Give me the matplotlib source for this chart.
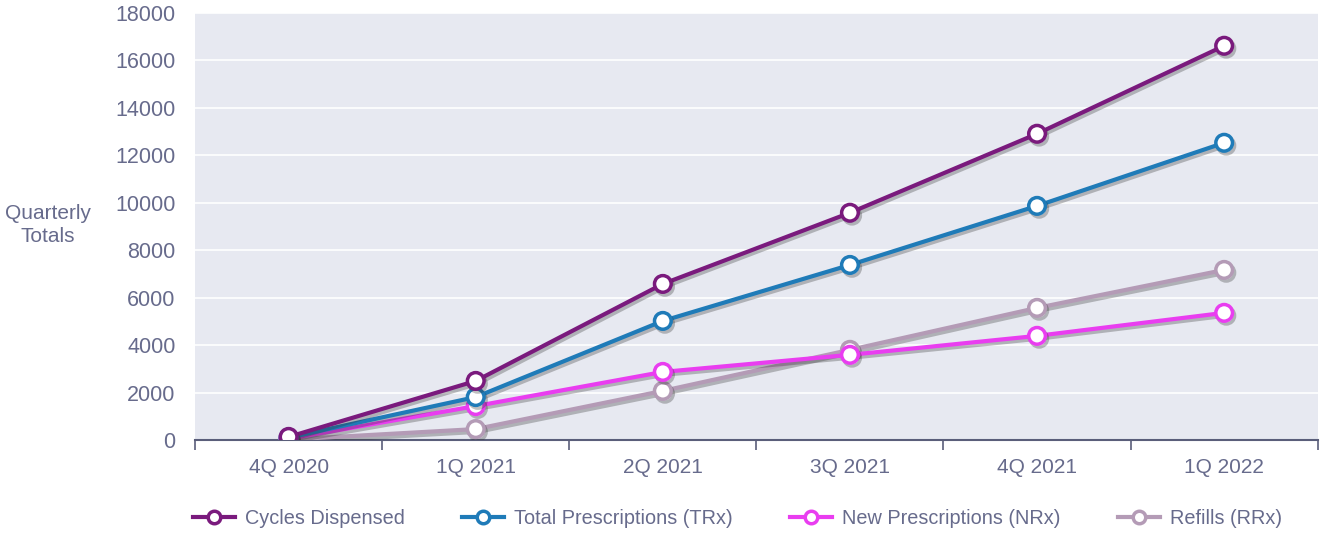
import matplotlib
matplotlib.use("Agg")
import matplotlib.pyplot as plt
import matplotlib.patheffects as pe
from matplotlib.lines import Line2D

plt.rcParams['font.family'] = ['Liberation Sans', 'DejaVu Sans']

quarters = ["4Q 2020", "1Q 2021", "2Q 2021", "3Q 2021", "4Q 2021", "1Q 2022"]
cycles_dispensed = [130, 2490, 6580, 9580, 12910, 16620]
total_rx = [100, 1810, 5020, 7380, 9870, 12530]
new_rx = [50, 1430, 2870, 3590, 4390, 5360]
refills_rx = [20, 460, 2070, 3800, 5570, 7170]

series = [
    ("Cycles Dispensed", cycles_dispensed, "#7a1a7d"),
    ("Total Prescriptions (TRx)", total_rx, "#1f7bb8"),
    ("New Prescriptions (NRx)", new_rx, "#e93df0"),
    ("Refills (RRx)", refills_rx, "#b49bb6"),
]

text_color = "#676b8c"

fig = plt.figure(figsize=(13.27, 5.33), dpi=100)
ax = fig.add_axes([0.147, 0.1745, 0.846, 0.801])
ax.set_facecolor("#e7e9f1")

x = list(range(len(quarters)))
shadow = [pe.SimpleLineShadow(offset=(1.5, -2), alpha=0.3, shadow_color="#303030"), pe.Normal()]

# draw back to front so the cycles line sits on top
for name, vals, color in reversed(series):
    ax.plot(x, vals, color=color, lw=3, marker="o", ms=12, mfc="white",
            mec=color, mew=2.5, path_effects=shadow, zorder=3)

ax.set_xlim(-0.5, len(quarters) - 0.5)
ax.set_ylim(0, 18000)
ax.set_yticks(range(0, 18001, 2000))
ax.yaxis.grid(True, color="white", lw=1.2)
ax.set_axisbelow(True)

ax.set_xticks(x)
ax.set_xticklabels(quarters)
ax.set_xticks([i - 0.5 for i in range(len(quarters) + 1)], minor=True)
ax.tick_params(axis="x", which="major", length=0, pad=13, labelsize=15, labelcolor=text_color)
ax.tick_params(axis="x", which="minor", length=7, width=1.2, color="#5a5e7a", direction="out")
ax.tick_params(axis="y", length=0, pad=14, labelsize=15.5, labelcolor=text_color)

for side in ["left", "right", "top"]:
    ax.spines[side].set_visible(False)
ax.spines["bottom"].set_color("#5a5e7a")
ax.spines["bottom"].set_linewidth(1.5)

fig.text(0.036, 0.578, "Quarterly\nTotals", ha="center", va="center",
         fontsize=15, color=text_color, linespacing=1.25)

handles = [Line2D([], [], color=c, lw=3, marker="o", ms=9, mfc="white", mec=c, mew=2.5)
           for _, _, c in series]
labels = [s[0] for s in series]
fig.legend(handles, labels, loc="center", bbox_to_anchor=(0.5558, 0.028), ncol=4,
           frameon=False, fontsize=14.3, labelcolor=text_color, handlelength=2.1,
           handletextpad=0.5, columnspacing=2.9)

fig.savefig("out.png", dpi=100)
